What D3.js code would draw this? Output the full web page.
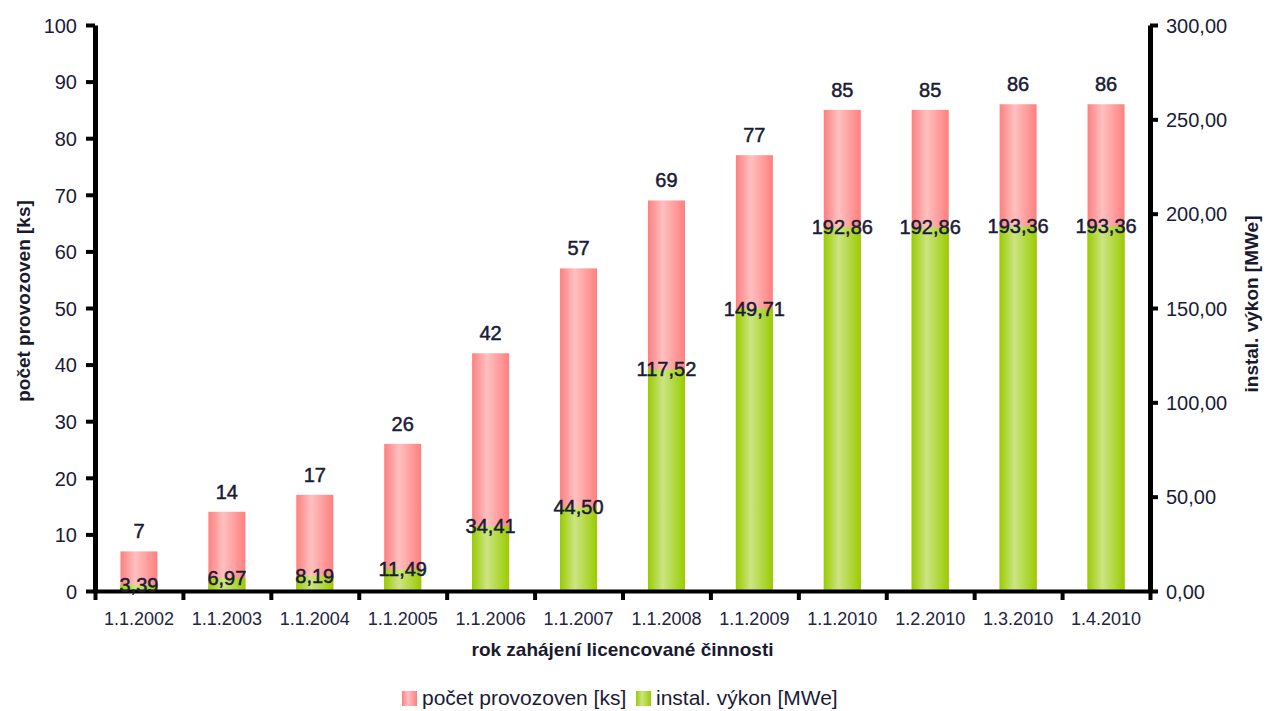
<!DOCTYPE html>
<html>
<head>
<meta charset="utf-8">
<script src="https://cdn.jsdelivr.net/npm/d3@7"></script>
<style>
  html, body { margin: 0; padding: 0; background: #fff; }
  svg { display: block; font-family: Arial, "Liberation Sans", sans-serif; }
</style>
</head>
<body>
<svg id="chart" width="1266" height="711"></svg>
<script>
// Licensed plants per date and their installed capacity
const categories = ["1.1.2002", "1.1.2003", "1.1.2004", "1.1.2005", "1.1.2006", "1.1.2007",
                    "1.1.2008", "1.1.2009", "1.1.2010", "1.2.2010", "1.3.2010", "1.4.2010"];
const plantCounts = [7, 14, 17, 26, 42, 57, 69, 77, 85, 85, 86, 86];
const installedPower = [3.39, 6.97, 8.19, 11.49, 34.41, 44.50, 117.52, 149.71, 192.86, 192.86, 193.36, 193.36];
const leftTicks = [0, 10, 20, 30, 40, 50, 60, 70, 80, 90, 100];
const rightTicks = [0, 50, 100, 150, 200, 250, 300];
const seriesNames = ["počet provozoven [ks]", "instal. výkon [MWe]"];
const axisTitles = {
  x: "rok zahájení licencované činnosti",
  left: "počet provozoven [ks]",
  right: "instal. výkon [MWe]"
};

const svg = d3.select("#chart");
const plot = { left: 95, right: 1150, top: 25, bottom: 591 };
const textColor = "#1b1b36";
const czech = v => d3.format(".2f")(v).replace(".", ",");

const x = d3.scaleBand().domain(categories).range([plot.left, plot.right]);
const xEdges = d3.scaleLinear().domain([0, categories.length]).range([plot.left, plot.right]);
const yLeft = d3.scaleLinear().domain([0, 100]).range([plot.bottom, plot.top]);
const yRight = d3.scaleLinear().domain([0, 300]).range([plot.bottom, plot.top]);

// Horizontal "cylinder" gradients for the bars
const defs = svg.append("defs");
function barGradient(id, edge, mid) {
  const g = defs.append("linearGradient").attr("id", id)
    .attr("x1", "0%").attr("x2", "100%").attr("y1", "0%").attr("y2", "0%");
  g.append("stop").attr("offset", "0%").attr("stop-color", edge);
  g.append("stop").attr("offset", "40%").attr("stop-color", mid);
  g.append("stop").attr("offset", "100%").attr("stop-color", edge);
}
barGradient("gPink", "#ff7f7f", "#ffc0c0");
barGradient("gGreen", "#99cc00", "#cde484");

const barW = 37;
const data = categories.map((c, i) => ({ c, n: plantCounts[i], p: installedPower[i] }));

// Count bars (left axis)
svg.append("g").selectAll("rect").data(data).join("rect")
  .attr("x", d => x(d.c) + x.bandwidth() / 2 - barW / 2)
  .attr("width", barW)
  .attr("y", d => yLeft(d.n))
  .attr("height", d => plot.bottom - yLeft(d.n))
  .attr("fill", "url(#gPink)");

// Installed power bars (right axis), drawn in front
svg.append("g").selectAll("rect").data(data).join("rect")
  .attr("x", d => x(d.c) + x.bandwidth() / 2 - barW / 2)
  .attr("width", barW)
  .attr("y", d => yRight(d.p))
  .attr("height", d => plot.bottom - yRight(d.p))
  .attr("fill", "url(#gGreen)");

// Axes
function styleAxis(g) {
  g.select(".domain").attr("stroke", "#000").attr("stroke-width", 5);
  g.selectAll(".tick line").attr("stroke", "#000").attr("stroke-width", 4);
  g.selectAll(".tick text").attr("fill", textColor).attr("font-family", "Arial, 'Liberation Sans', sans-serif");
}

const gLeft = svg.append("g").attr("transform", `translate(${plot.left},0)`)
  .call(d3.axisLeft(yLeft).tickValues(leftTicks).tickSize(9).tickSizeOuter(0).tickPadding(9));
styleAxis(gLeft);
gLeft.selectAll(".tick text").attr("font-size", 20).attr("dy", "0.36em");

const gRight = svg.append("g").attr("transform", `translate(${plot.right},0)`)
  .call(d3.axisRight(yRight).tickValues(rightTicks).tickSize(8).tickSizeOuter(0).tickPadding(8).tickFormat(czech));
styleAxis(gRight);
gRight.selectAll(".tick text").attr("font-size", 20).attr("dy", "0.36em");

// Category boundary ticks along the bottom
const gEdges = svg.append("g").attr("transform", `translate(0,${plot.bottom})`)
  .call(d3.axisBottom(xEdges).tickValues(d3.range(categories.length + 1)).tickSize(9).tickSizeOuter(0).tickFormat(""));
styleAxis(gEdges);
gEdges.select(".domain").attr("stroke-width", 4);

// Category labels
const gX = svg.append("g").attr("transform", `translate(0,${plot.bottom})`)
  .call(d3.axisBottom(x).tickSize(0).tickPadding(34));
gX.select(".domain").remove();
gX.selectAll(".tick text").attr("font-size", 18).attr("fill", "#24243f").attr("dy", "0");

// Value labels
const labelStyle = sel => sel
  .attr("text-anchor", "middle")
  .attr("font-size", 20)
  .attr("fill", textColor)
  .attr("stroke", textColor)
  .attr("stroke-width", 0.5);

svg.append("g").selectAll("text").data(data).join("text")
  .attr("x", d => x(d.c) + x.bandwidth() / 2)
  .attr("y", d => yLeft(d.n) - 13)
  .text(d => d.n)
  .call(labelStyle);

svg.append("g").selectAll("text").data(data).join("text")
  .attr("x", d => x(d.c) + x.bandwidth() / 2)
  .attr("y", d => yRight(d.p) + 7)
  .text(d => czech(d.p))
  .call(labelStyle);

// Axis titles
svg.append("text")
  .attr("x", (plot.left + plot.right) / 2)
  .attr("y", 656)
  .attr("text-anchor", "middle")
  .attr("font-size", 19).attr("font-weight", "bold").attr("fill", "#1a1a2e")
  .text(axisTitles.x);

svg.append("text")
  .attr("transform", "translate(30,301) rotate(-90)")
  .attr("text-anchor", "middle")
  .attr("font-size", 19).attr("font-weight", "bold").attr("fill", "#1a1a2e")
  .text(axisTitles.left);

svg.append("text")
  .attr("transform", "translate(1258,304) rotate(-90)")
  .attr("text-anchor", "middle")
  .attr("font-size", 19).attr("font-weight", "bold").attr("fill", "#1a1a2e")
  .text(axisTitles.right);

// Legend
const legend = svg.append("g");
const legendItems = [
  { name: seriesNames[0], fill: "url(#gPink)", x: 402 },
  { name: seriesNames[1], fill: "url(#gGreen)", x: 636 }
];
legendItems.forEach(it => {
  legend.append("rect").attr("x", it.x).attr("y", 691).attr("width", 15).attr("height", 15).attr("fill", it.fill);
  legend.append("text").attr("x", it.x + 20).attr("y", 705)
    .attr("font-size", 21).attr("fill", textColor).text(it.name);
});
</script>
</body>
</html>
